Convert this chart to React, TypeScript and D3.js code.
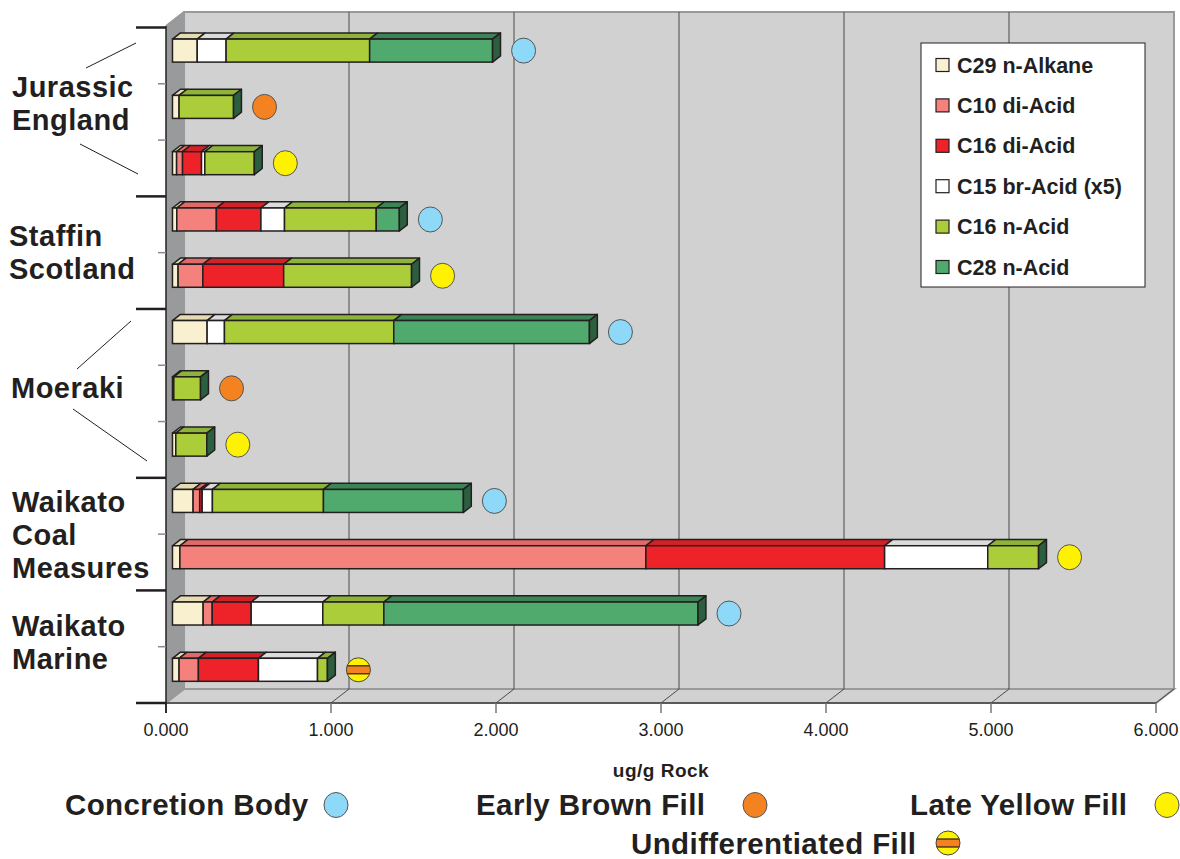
import React from 'react';
import * as d3 from 'd3';

// compound series, values in ug/g rock
const seriesKeys = ['c29', 'c10', 'c16di', 'c15', 'c16n', 'c28'];
const seriesNames = ['C29 n-Alkane', 'C10 di-Acid', 'C16 di-Acid', 'C15 br-Acid (x5)', 'C16 n-Acid', 'C28 n-Acid'];

const c29Alkane = [0.15, 0.04, 0.025, 0.026, 0.034, 0.21, 0.008, 0.02, 0.125, 0.045, 0.186, 0.04];
const c10DiAcid = [0, 0, 0.036, 0.24, 0.15, 0, 0, 0, 0.04, 2.824, 0.055, 0.117];
const c16DiAcid = [0, 0, 0.115, 0.27, 0.49, 0, 0, 0, 0.015, 1.447, 0.236, 0.364];
const c15BrAcid = [0.175, 0, 0.02, 0.143, 0, 0.105, 0, 0, 0.062, 0.625, 0.434, 0.358];
const c16NAcid = [0.87, 0.33, 0.3, 0.556, 0.775, 1.026, 0.162, 0.188, 0.673, 0.308, 0.37, 0.06];
const c28NAcid = [0.745, 0, 0, 0.14, 0, 1.186, 0, 0, 0.848, 0, 1.904, 0];

// sample type of each bar (marker at the bar end)
const rowFill = [
  'Concretion Body', 'Early Brown Fill', 'Late Yellow Fill',
  'Concretion Body', 'Late Yellow Fill',
  'Concretion Body', 'Early Brown Fill', 'Late Yellow Fill',
  'Concretion Body', 'Late Yellow Fill',
  'Concretion Body', 'Undifferentiated Fill',
];

const groupNames = [['Jurassic', 'England'], ['Staffin', 'Scotland'], ['Moeraki'], ['Waikato', 'Coal', 'Measures'], ['Waikato', 'Marine']];
const groupSizes = [3, 2, 3, 2, 2];
const xTicks = [0, 1, 2, 3, 4, 5, 6];
const xTitle = 'ug/g Rock';

// styling
const FONT = '"Liberation Sans", Arial, Helvetica, sans-serif';
const INK = '#231f20';
const frontColors = ['#f9f0d0', '#f4817b', '#ee2229', '#ffffff', '#accd3a', '#50aa6e'];
const topColors = ['#e6dcb4', '#e06a68', '#d42027', '#dcdcdc', '#8db33a', '#3a8456'];
const capColors = ['#c8bf9a', '#b85550', '#a01518', '#b8b8b8', '#2b5f3f', '#2b5f3f'];
const fillColors: Record<string, string> = {
  'Concretion Body': '#8ed8f8',
  'Early Brown Fill': '#f58220',
  'Late Yellow Fill': '#fff200',
  'Undifferentiated Fill': '#fff200',
};

// label placement (x, first baseline) and leader lines per group
const groupLabelPos = [[12, 97], [9, 246], [11, 398], [12, 512], [12, 636]];
const leaderLines = [
  [136, 43, 86, 68], [80, 144, 138, 174],
  [131, 321, 77, 369], [73, 409, 147, 461],
];
const bottomLegend = [
  { name: 'Concretion Body', tx: 65, ty: 815, cx: 336, cy: 805 },
  { name: 'Early Brown Fill', tx: 476, ty: 815, cx: 755, cy: 805 },
  { name: 'Late Yellow Fill', tx: 910, ty: 815, cx: 1167, cy: 805 },
  { name: 'Undifferentiated Fill', tx: 631, ty: 854, cx: 948, cy: 843 },
];

const W = 1180, H = 859;
const DX = 18, DY = -14; // full depth of the 3d box
const BAR_D0 = 0.36, BAR_D1 = 0.8; // depth slice taken by bars
const BAR_H = 23;

const x = d3.scaleLinear().domain([0, 6]).range([166, 1156]);
const rows = d3.range(c29Alkane.length);
const y = d3.scaleBand<number>().domain(rows).range([27.5, 703]);

const table = rows.map(i => ({
  c29: c29Alkane[i], c10: c10DiAcid[i], c16di: c16DiAcid[i],
  c15: c15BrAcid[i], c16n: c16NAcid[i], c28: c28NAcid[i],
}));
const stacked = d3.stack<any>().keys(seriesKeys)(table);

const pts = (p: number[][]) => p.map(d => d.join(',')).join(' ');

function Marker({ cx, cy, type, id }: { cx: number; cy: number; type: string; id: string }) {
  if (type === 'Undifferentiated Fill') {
    return (
      <g>
        <clipPath id={id}><circle cx={cx} cy={cy} r={12} /></clipPath>
        <circle cx={cx} cy={cy} r={12} fill="#fff200" />
        <rect x={cx - 13} y={cy - 4} width={26} height={8} fill="#f58220" stroke={INK} strokeWidth={1.2} clipPath={`url(#${id})`} />
        <circle cx={cx} cy={cy} r={12} fill="none" stroke="#444" strokeWidth={1} />
      </g>
    );
  }
  return <ellipse cx={cx} cy={cy} rx={12} ry={12.5} fill={fillColors[type]} stroke="#555" strokeWidth={1} />;
}

export default function App() {
  const bx = DX * BAR_D0, by = DY * BAR_D0;
  const ddx = DX * (BAR_D1 - BAR_D0), ddy = DY * (BAR_D1 - BAR_D0);
  const x0 = x(0), x6 = x(6), yTop = 26, yBot = 703;

  // group boundaries along the y band scale
  const bounds = [0, ...d3.cumsum(groupSizes)];

  const bars = rows.map(i => {
    const cy = (y(i) as number) + y.bandwidth() / 2 + by;
    const top = cy - BAR_H / 2, bot = cy + BAR_H / 2;
    const segs = stacked
      .map((s, k) => ({ k, v0: s[i][0], v1: s[i][1] }))
      .filter(s => s.v1 - s.v0 > 0);
    const last = segs[segs.length - 1];
    const xEnd = x(last.v1) + bx;
    return (
      <g key={i}>
        {segs.map(s => {
          const a = x(s.v0) + bx, b = x(s.v1) + bx;
          return (
            <g key={s.k}>
              <polygon points={pts([[a, top], [a + ddx, top + ddy], [b + ddx, top + ddy], [b, top]])}
                fill={topColors[s.k]} stroke={INK} strokeWidth={1.5} strokeLinejoin="round" />
              <rect x={a} y={top} width={b - a} height={BAR_H} fill={frontColors[s.k]} stroke={INK} strokeWidth={1.5} />
            </g>
          );
        })}
        <polygon points={pts([[xEnd, top], [xEnd + ddx, top + ddy], [xEnd + ddx, bot + ddy], [xEnd, bot]])}
          fill={capColors[last.k]} stroke={INK} strokeWidth={1.5} strokeLinejoin="round" />
        <Marker cx={xEnd + 31} cy={cy} type={rowFill[i]} id={`clip${i}`} />
      </g>
    );
  });

  return (
    <svg width={W} height={H} style={{ position: 'absolute', left: 0, top: 0, display: 'block' }} fontFamily={FONT}>
      <rect width={W} height={H} fill="#fff" />

      {/* back wall */}
      <rect x={x0 + DX} y={yTop + DY} width={x6 - x0} height={yBot - yTop} fill="#d1d1d1" stroke="#999" strokeWidth={2} />
      {/* left wall */}
      <polygon points={pts([[x0, yTop], [x0 + DX, yTop + DY], [x0 + DX, yBot + DY], [x0, yBot]])} fill="#999a9c" />
      {/* floor */}
      <polygon points={pts([[x0, yBot], [x0 + DX, yBot + DY], [x6 + DX, yBot + DY], [x6, yBot]])} fill="#d1d1d1" stroke="#999" strokeWidth={2} />
      <line x1={x0 + DX} y1={yTop + DY} x2={x0} y2={yTop} stroke="#999" strokeWidth={2} />

      {/* grid lines on wall and floor */}
      {xTicks.filter(t => t > 0).map(t => (
        <g key={t}>
          {t < 6 && <line x1={x(t) + DX} x2={x(t) + DX} y1={yTop + DY} y2={yBot + DY} stroke="#4a4a4a" strokeWidth={1} />}
          <line x1={x(t)} y1={yBot} x2={x(t) + DX} y2={yBot + DY} stroke="#4a4a4a" strokeWidth={1} />
        </g>
      ))}

      {/* x axis */}
      <line x1={x0} x2={x6} y1={yBot} y2={yBot} stroke="#444" strokeWidth={1.5} />
      {xTicks.map(t => (
        <g key={t}>
          <line x1={x(t)} x2={x(t)} y1={yBot} y2={yBot + 10} stroke={t === 0 ? INK : '#777'} strokeWidth={1.5} />
          <text x={x(t)} y={736} textAnchor="middle" fontSize={18} fill={INK}>{d3.format('.3f')(t)}</text>
        </g>
      ))}
      <text x={x(3)} y={777} textAnchor="middle" fontSize={19} fontWeight="bold" fill={INK} letterSpacing={0.5}>{xTitle}</text>

      {/* y axis with category ticks */}
      <line x1={x0} x2={x0} y1={yTop} y2={yBot + 10} stroke={INK} strokeWidth={1.5} />
      {d3.range(rows.length + 1).map(k => {
        const ty = k < rows.length ? (y(k) as number) : yBot;
        const major = bounds.includes(k);
        return (
          <line key={k} x1={major ? 136 : 158} x2={x0} y1={ty} y2={ty}
            stroke={major ? INK : '#8a8a8a'} strokeWidth={major ? 2.5 : 1.5} />
        );
      })}

      {bars}

      {/* group labels */}
      {groupNames.map((lines, g) => (
        <text key={g} x={groupLabelPos[g][0]} y={groupLabelPos[g][1]} fontSize={29} fontWeight="bold" fill={INK} letterSpacing={0.5}>
          {lines.map((l, j) => <tspan key={j} x={groupLabelPos[g][0]} dy={j === 0 ? 0 : 33}>{l}</tspan>)}
        </text>
      ))}
      {leaderLines.map((l, j) => (
        <line key={j} x1={l[0]} y1={l[1]} x2={l[2]} y2={l[3]} stroke={INK} strokeWidth={1} />
      ))}

      {/* compound legend */}
      <rect x={921} y={43} width={224} height={244} fill="#fff" stroke={INK} strokeWidth={1} />
      {seriesNames.map((n, k) => {
        const ly = 65 + k * 40.4;
        return (
          <g key={n}>
            <rect x={936} y={ly - 6.5} width={13} height={13} fill={frontColors[k]} stroke={INK} strokeWidth={1.2} />
            <text x={957} y={ly + 7.5} fontSize={21.5} fontWeight="bold" fill={INK}>{n}</text>
          </g>
        );
      })}

      {/* sample type legend */}
      {bottomLegend.map((d, j) => (
        <g key={d.name}>
          <text x={d.tx} y={d.ty} fontSize={29.5} fontWeight="bold" fill={INK} letterSpacing={0.4}>{d.name}</text>
          <Marker cx={d.cx} cy={d.cy} type={d.name} id={`lclip${j}`} />
        </g>
      ))}
    </svg>
  );
}
